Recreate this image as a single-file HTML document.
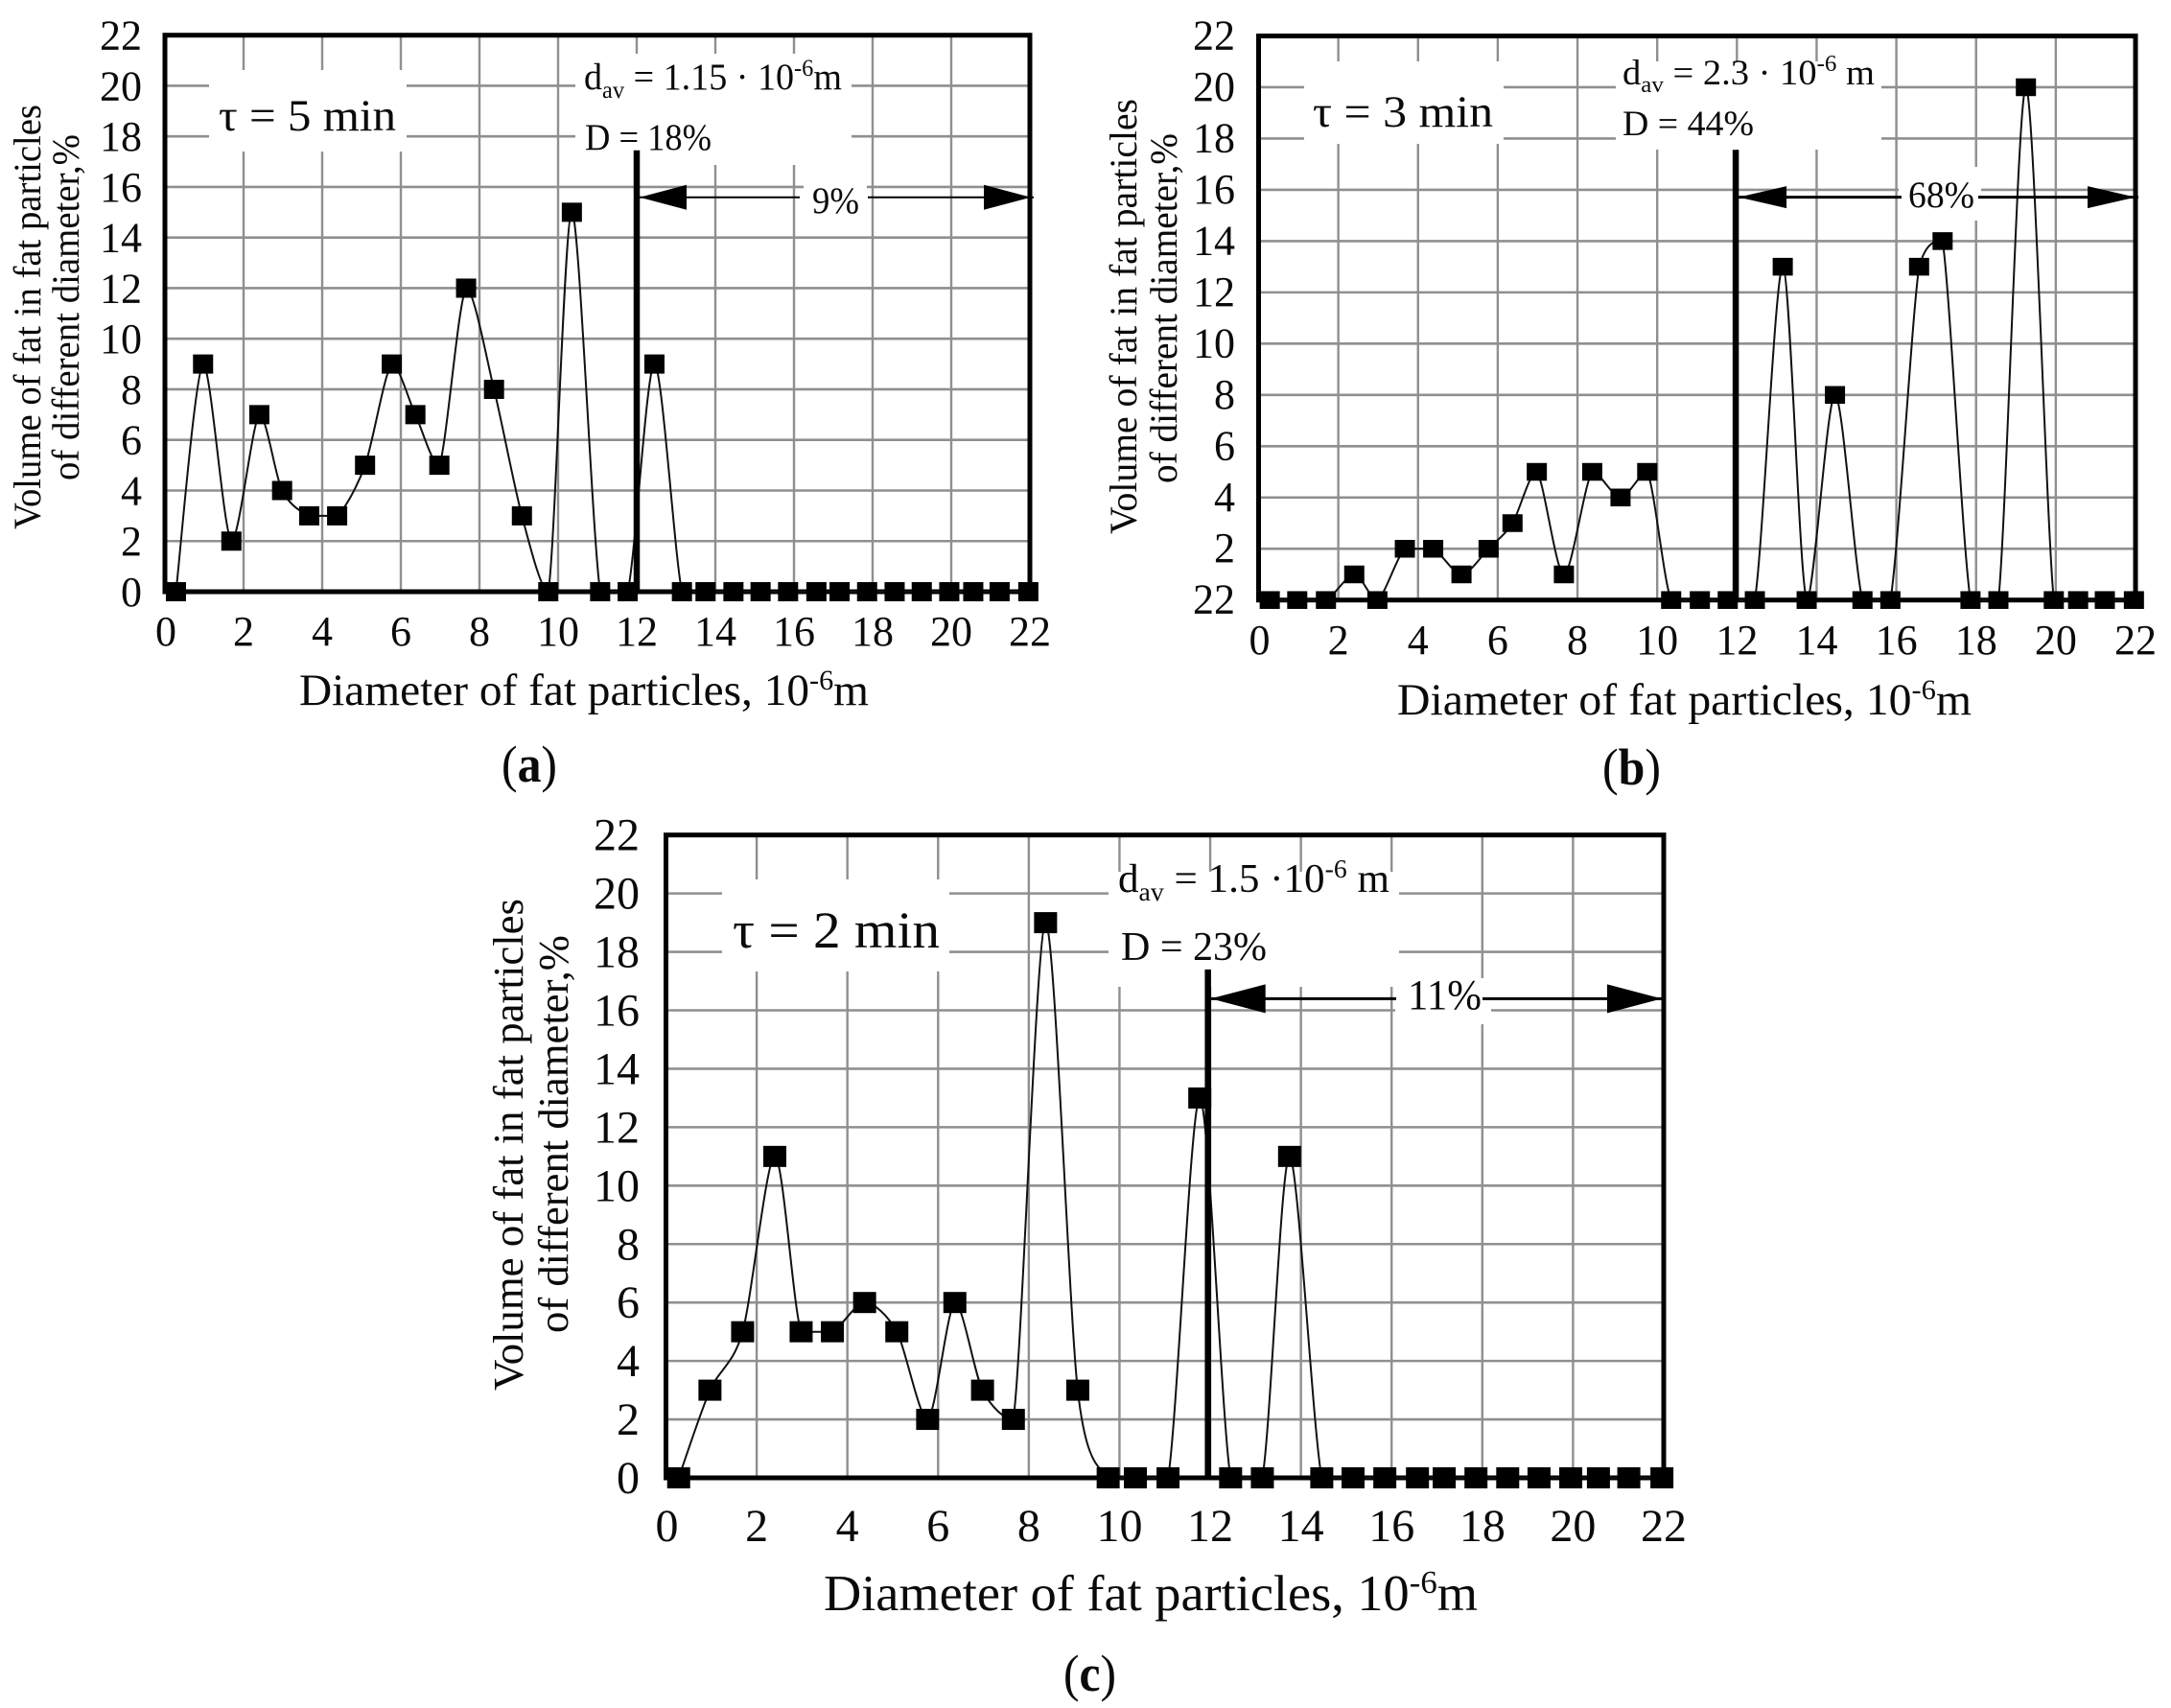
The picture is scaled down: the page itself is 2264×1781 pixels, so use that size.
<!DOCTYPE html>
<html lang="en">
<head>
<meta charset="utf-8">
<title>Fat particle size distributions</title>
<style>
html,body{margin:0;padding:0;background:#fff;}
svg{display:block;}
text{font-family:"Liberation Serif","DejaVu Serif",serif;fill:#0a0a0a;}
</style>
</head>
<body>
<svg id="figure" xmlns="http://www.w3.org/2000/svg" width="2264" height="1781" viewBox="0 0 2264 1781">
  <rect x="0" y="0" width="2264" height="1781" fill="#fff"/>

  <!-- PANEL A -->
  <g id="panel-a">
    <g id="a-grid"></g>
    <rect x="218" y="73" width="206" height="85" fill="#fff"/>
    <rect x="600" y="56" width="288" height="116" fill="#fff"/>
    <rect x="838" y="185" width="66" height="47" fill="#fff"/>
    <g id="a-frame"></g>
    <g id="a-series"></g>
    <g id="a-range"></g>
    <rect x="834" y="198" width="71" height="30" fill="#fff"/>
    <g id="a-ticks" font-size="44"></g>
    <text x="228" y="136" font-size="47" textLength="185" lengthAdjust="spacingAndGlyphs">τ = 5 min</text>
    <text x="609" y="93" font-size="39" textLength="269" lengthAdjust="spacingAndGlyphs">d<tspan dy="9" font-size="25">av</tspan><tspan dy="-9"> = 1.15 · 10</tspan><tspan dy="-14" font-size="25">-6</tspan><tspan dy="14">m</tspan></text>
    <text x="610" y="156" font-size="39" textLength="132" lengthAdjust="spacingAndGlyphs">D = 18%</text>
    <text x="847" y="222" font-size="39" textLength="49" lengthAdjust="spacingAndGlyphs">9%</text>
    <text x="312" y="735" font-size="47" textLength="594" lengthAdjust="spacingAndGlyphs">Diameter of fat particles, 10<tspan dy="-16" font-size="30">-6</tspan><tspan dy="16">m</tspan></text>
    <text transform="translate(42,552) rotate(-90)" font-size="40" textLength="443" lengthAdjust="spacingAndGlyphs">Volume of fat in fat particles</text>
    <text transform="translate(82,501) rotate(-90)" font-size="40" textLength="361" lengthAdjust="spacingAndGlyphs">of different diameter,%</text>
    <text x="523" y="815" font-size="54" textLength="58" lengthAdjust="spacingAndGlyphs">(<tspan font-weight="bold">a</tspan>)</text>
  </g>

  <!-- PANEL B -->
  <g id="panel-b">
    <g id="b-grid"></g>
    <rect x="1360" y="64" width="208" height="86" fill="#fff"/>
    <rect x="1685" y="64" width="277" height="92" fill="#fff"/>
    <rect x="1980" y="174" width="86" height="56" fill="#fff"/>
    <g id="b-frame"></g>
    <g id="b-series"></g>
    <g id="b-range"></g>
    <rect x="1983" y="196" width="80" height="26" fill="#fff"/>
    <g id="b-ticks" font-size="44"></g>
    <text x="1369" y="132" font-size="47" textLength="188" lengthAdjust="spacingAndGlyphs">τ = 3 min</text>
    <text x="1692" y="88" font-size="37" textLength="263" lengthAdjust="spacingAndGlyphs">d<tspan dy="8" font-size="24">av</tspan><tspan dy="-8"> = 2.3 · 10</tspan><tspan dy="-14" font-size="24">-6</tspan><tspan dy="14"> m</tspan></text>
    <text x="1692" y="141" font-size="37" textLength="137" lengthAdjust="spacingAndGlyphs">D = 44%</text>
    <text x="1990" y="216" font-size="39" textLength="69" lengthAdjust="spacingAndGlyphs">68%</text>
    <text x="1457" y="745" font-size="47" textLength="599" lengthAdjust="spacingAndGlyphs">Diameter of fat particles, 10<tspan dy="-16" font-size="30">-6</tspan><tspan dy="16">m</tspan></text>
    <text transform="translate(1185,557) rotate(-90)" font-size="40" textLength="454" lengthAdjust="spacingAndGlyphs">Volume of fat in fat particles</text>
    <text transform="translate(1227,504) rotate(-90)" font-size="40" textLength="365" lengthAdjust="spacingAndGlyphs">of different diameter,%</text>
    <text x="1671" y="818" font-size="54" textLength="61" lengthAdjust="spacingAndGlyphs">(<tspan font-weight="bold">b</tspan>)</text>
  </g>

  <!-- PANEL C -->
  <g id="panel-c">
    <g id="c-grid"></g>
    <rect x="753" y="917" width="237" height="96" fill="#fff"/>
    <rect x="1156" y="909" width="303" height="120" fill="#fff"/>
    <rect x="1455" y="1020" width="100" height="48" fill="#fff"/>
    <g id="c-frame"></g>
    <g id="c-series"></g>
    <g id="c-range"></g>
    <rect x="1456" y="1028" width="90" height="28" fill="#fff"/>
    <g id="c-ticks" font-size="48"></g>
    <text x="764" y="988" font-size="54" textLength="216" lengthAdjust="spacingAndGlyphs">τ = 2 min</text>
    <text x="1166" y="930" font-size="42" textLength="283" lengthAdjust="spacingAndGlyphs">d<tspan dy="9" font-size="27">av</tspan><tspan dy="-9"> = 1.5 ·10</tspan><tspan dy="-15" font-size="27">-6</tspan><tspan dy="15"> m</tspan></text>
    <text x="1169" y="1001" font-size="42" textLength="152" lengthAdjust="spacingAndGlyphs">D = 23%</text>
    <text x="1468" y="1052" font-size="44" textLength="77" lengthAdjust="spacingAndGlyphs">11%</text>
    <text x="859" y="1679" font-size="53" textLength="682" lengthAdjust="spacingAndGlyphs">Diameter of fat particles, 10<tspan dy="-18" font-size="34">-6</tspan><tspan dy="18">m</tspan></text>
    <text transform="translate(545,1450) rotate(-90)" font-size="44" textLength="513" lengthAdjust="spacingAndGlyphs">Volume of fat in fat particles</text>
    <text transform="translate(592,1390) rotate(-90)" font-size="44" textLength="415" lengthAdjust="spacingAndGlyphs">of different diameter,%</text>
    <text x="1109" y="1763" font-size="54" textLength="55" lengthAdjust="spacingAndGlyphs">(<tspan font-weight="bold">c</tspan>)</text>
  </g>
</svg>

<script>
// Chart data
const diameters = [0.28,0.97,1.69,2.4,2.98,3.67,4.38,5.09,5.77,6.37,6.98,7.66,8.37,9.08,9.75,10.35,11.07,11.77,12.45,13.15,13.75,14.46,15.15,15.85,16.57,17.16,17.86,18.56,19.25,19.95,20.56,21.23,21.96];
const valuesA = [0,9,2,7,4,3,3,5,9,7,5,12,8,3,0,15,0,0,9,0,0,0,0,0,0,0,0,0,0,0,0,0,0];
const valuesB = [0,0,0,1,0,2,2,1,2,3,5,1,5,4,5,0,0,0,0,13,0,8,0,0,13,14,0,0,20,0,0,0,0];
const valuesC = [0,3,5,11,5,5,6,5,2,6,3,2,19,3,0,0,0,13,0,0,11,0,0,0,0,0,0,0,0,0,0,0,0];
const tickValues = [0,2,4,6,8,10,12,14,16,18,20,22];
const xTickLabels = ["0","2","4","6","8","10","12","14","16","18","20","22"];
const yTickLabelsA = ["0","2","4","6","8","10","12","14","16","18","20","22"];
const yTickLabelsB = ["22","2","4","6","8","10","12","14","16","18","20","22"];
const yTickLabelsC = ["0","2","4","6","8","10","12","14","16","18","20","22"];

const SVGNS = 'http://www.w3.org/2000/svg';

function make(tag, parent) {
  const el = document.createElementNS(SVGNS, tag);
  parent.appendChild(el);
  return el;
}

function clampBetween(v, a, b) {
  return Math.max(Math.min(a, b), Math.min(Math.max(a, b), v));
}

function smoothPath(pts) {
  const t = 0.85;
  let d = 'M' + pts[0].x.toFixed(1) + ' ' + pts[0].y.toFixed(1);
  for (let i = 0; i < pts.length - 1; i++) {
    const p0 = pts[Math.max(0, i - 1)];
    const p1 = pts[i];
    const p2 = pts[i + 1];
    const p3 = pts[Math.min(pts.length - 1, i + 2)];
    const c1x = p1.x + (p2.x - p0.x) / 6 * t;
    const c1y = clampBetween(p1.y + (p2.y - p0.y) / 6 * t, p1.y, p2.y);
    const c2x = p2.x - (p3.x - p1.x) / 6 * t;
    const c2y = clampBetween(p2.y - (p3.y - p1.y) / 6 * t, p1.y, p2.y);
    d += 'C' + c1x.toFixed(1) + ' ' + c1y.toFixed(1) + ' ' + c2x.toFixed(1) + ' ' + c2y.toFixed(1) + ' ' + p2.x.toFixed(1) + ' ' + p2.y.toFixed(1);
  }
  return d;
}

function drawPanel(id, values, yLabels, cfg) {
  const xScale = v => cfg.left + (v / 22) * (cfg.right - cfg.left);
  const yScale = v => cfg.bottom - (v / 22) * (cfg.bottom - cfg.top);

  const grid = document.getElementById(id + '-grid');
  const frame = document.getElementById(id + '-frame');
  const series = document.getElementById(id + '-series');
  const range = document.getElementById(id + '-range');
  const ticks = document.getElementById(id + '-ticks');

  tickValues.forEach((v, i) => {
    if (v > 0 && v < 22) {
      const vl = make('line', grid);
      
      
      vl.setAttribute('x1', xScale(v));
      vl.setAttribute('x2', xScale(v));
      vl.setAttribute('y1', cfg.top);
      vl.setAttribute('y2', cfg.bottom);
      vl.setAttribute('stroke', '#8f8f8f');
      vl.setAttribute('stroke-width', '2.4');
      const hl = make('line', grid);
      
      
      hl.setAttribute('x1', cfg.left);
      hl.setAttribute('x2', cfg.right);
      hl.setAttribute('y1', yScale(v));
      hl.setAttribute('y2', yScale(v));
      hl.setAttribute('stroke', '#8f8f8f');
      hl.setAttribute('stroke-width', '2.6');
    }
    const xt = make('text', ticks);
    
    
    xt.setAttribute('x', xScale(v) + (i === 0 ? 1 : 0));
    xt.setAttribute('y', cfg.xTickY);
    xt.setAttribute('text-anchor', 'middle');
    xt.textContent = xTickLabels[i];
    const yt = make('text', ticks);
    
    
    yt.setAttribute('x', cfg.yTickRight);
    yt.setAttribute('y', yScale(v) + cfg.yTickDy);
    yt.setAttribute('text-anchor', 'end');
    yt.textContent = yLabels[i];
  });

  const box = make('rect', frame);
  
  
  box.setAttribute('x', cfg.left);
  box.setAttribute('y', cfg.top);
  box.setAttribute('width', cfg.right - cfg.left);
  box.setAttribute('height', cfg.bottom - cfg.top);
  box.setAttribute('fill', 'none');
  box.setAttribute('stroke', '#000');
  box.setAttribute('stroke-width', '5');

  const pts = diameters.map((d, i) => ({ x: xScale(d), y: yScale(values[i]) }));

  const line = make('path', series);
  
  
  line.setAttribute('d', smoothPath(pts));
  line.setAttribute('fill', 'none');
  line.setAttribute('stroke', '#111');
  line.setAttribute('stroke-width', '2');

  pts.forEach(p => {
    const m = make('rect', series);
    
    
    m.setAttribute('x', p.x - cfg.markerW / 2);
    m.setAttribute('y', p.y - cfg.markerH / 2);
    m.setAttribute('width', cfg.markerW);
    m.setAttribute('height', cfg.markerH);
    m.setAttribute('fill', '#000');
  });

  const splitX = xScale(cfg.split);
  const arrowY = yScale(cfg.arrowLevel);

  const vLine = make('line', range);
  
  
  vLine.setAttribute('x1', splitX);
  vLine.setAttribute('x2', splitX);
  vLine.setAttribute('y1', yScale(cfg.splitTop));
  vLine.setAttribute('y2', cfg.bottom);
  vLine.setAttribute('stroke', '#000');
  vLine.setAttribute('stroke-width', '6.5');

  const shaft = make('line', range);
  
  
  shaft.setAttribute('x1', splitX);
  shaft.setAttribute('x2', cfg.right + cfg.shaftExt);
  shaft.setAttribute('y1', arrowY);
  shaft.setAttribute('y2', arrowY);
  shaft.setAttribute('stroke', '#000');
  shaft.setAttribute('stroke-width', cfg.shaft);

  const headL = make('polygon', range);
  
  
  headL.setAttribute('points', [splitX + 3, arrowY, splitX + 3 + cfg.headLen, arrowY - cfg.headH / 2, splitX + 3 + cfg.headLen, arrowY + cfg.headH / 2].join(' '));
  headL.setAttribute('fill', '#000');

  const headR = make('polygon', range);
  
  
  const tip = cfg.right + cfg.tipExt;
  headR.setAttribute('points', [tip, arrowY, tip - cfg.headLen, arrowY - cfg.headH / 2, tip - cfg.headLen, arrowY + cfg.headH / 2].join(' '));
  headR.setAttribute('fill', '#000');
}

drawPanel('a', valuesA, yTickLabelsA, {left:172, right:1074, top:36.7, bottom:617, xTickY:673, yTickRight:148, yTickDy:15, markerW:21, markerH:20, split:12, splitTop:17.45, arrowLevel:15.59, shaft:2, shaftExt:4, tipExt:1, headLen:49, headH:26});
drawPanel('b', valuesB, yTickLabelsB, {left:1312.5, right:2227, top:37.5, bottom:625.7, xTickY:682, yTickRight:1288, yTickDy:14, markerW:21, markerH:18.5, split:11.97, splitTop:17.56, arrowLevel:15.71, shaft:3, shaftExt:3, tipExt:0, headLen:50, headH:23});
drawPanel('c', valuesC, yTickLabelsC, {left:694.5, right:1735, top:870.7, bottom:1541, xTickY:1607, yTickRight:667, yTickDy:16, markerW:24, markerH:22, split:11.95, splitTop:17.4, arrowLevel:16.4, shaft:3, shaftExt:-1, tipExt:-2, headLen:57, headH:30});
</script>
</body>
</html>
